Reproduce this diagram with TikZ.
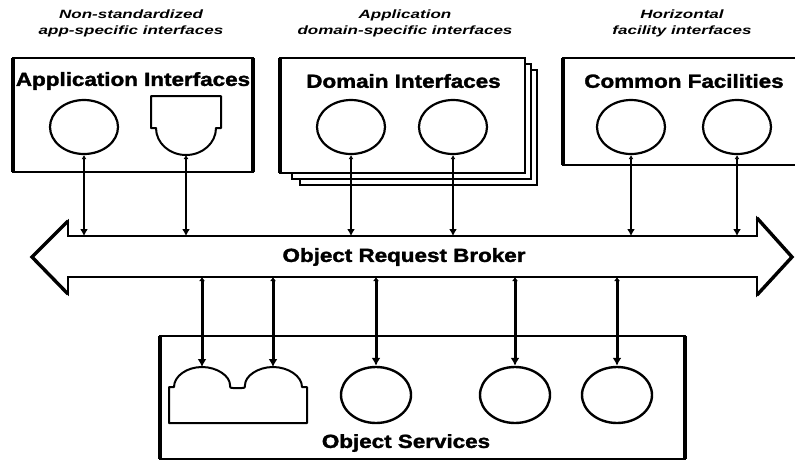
\documentclass[tikz,border=0pt]{standalone}
\usepackage{fontspec}
\setmainfont{Liberation Sans}[BoldFeatures={FakeBold=1.6}]
\usetikzlibrary{arrows.meta,shapes.geometric}
\begin{document}
\begin{tikzpicture}[x=1pt,y=-1pt,
  title/.style={font=\fontsize{19}{19}\selectfont\bfseries, inner sep=0pt},
  lbl/.style={font=\fontsize{12}{16}\selectfont\bfseries\itshape, align=center, inner sep=0pt},
  iface/.style={ellipse, draw, line width=2.2pt, minimum width=68pt, minimum height=54pt, inner sep=0pt},
  sface/.style={ellipse, draw, line width=2.4pt, minimum width=70pt, minimum height=56pt, inner sep=0pt},
  box/.style={draw, line width=2pt, fill=white},
  sidebar/.style={line width=3.4pt},
  plug/.style={draw, line width=2pt, fill=white, line join=round},
  uplink/.style={line width=1.6pt, {Latex[length=4pt,width=5pt]}-{Latex[length=7pt,width=8pt]}},
  dnlink/.style={line width=3pt, {Latex[length=4pt,width=6pt]}-{Latex[length=8pt,width=9pt]}}
]
\useasboundingbox (0,0) rectangle (795,461);
\clip (0,0) rectangle (795,461);

% top labels
\node[lbl] (l1) at (131,23) {\scalebox{1.42}[1]{Non-standardized}\\\scalebox{1.42}[1]{app-specific interfaces}};
\node[lbl] (l2) at (405,23) {\scalebox{1.42}[1]{Application}\\\scalebox{1.42}[1]{domain-specific interfaces}};
\node[lbl] (l3) at (682,23) {\scalebox{1.42}[1]{Horizontal}\\\scalebox{1.42}[1]{facility interfaces}};

% Application Interfaces box
\draw[box] (13,58) rectangle (253,172);
\draw[sidebar] (13,58) -- (13,172);
\draw[sidebar] (253,58) -- (253,172);
\node[title] (t1) at (133,81) {\scalebox{1.18}[1]{Application Interfaces}};
\node[iface] (c1) at (84,127) {};
\draw[plug] (151,96) -- (221,96) -- (221,128) -- (216,128)
  .. controls (216,143) and (202.6,155) .. (186,155)
  .. controls (169.4,155) and (156,143) .. (156,128) -- (151,128) -- cycle;
\coordinate (p1) at (186,155);

% Domain Interfaces stacked boxes
\draw[box, line width=1.8pt] (300,70) rectangle (537,185);
\draw[box, line width=1.8pt] (292,64) rectangle (531,179);
\draw[box] (280,58) rectangle (525,173);
\draw[sidebar] (280,58) -- (280,173);
\node[title] (t2) at (403.5,81) {\scalebox{1.18}[1]{Domain Interfaces}};
\node[iface] (c2) at (351,127) {};
\node[iface] (c3) at (453,127) {};

% Common Facilities box
\draw[box] (563,58) rectangle (800,165);
\draw[sidebar] (563,58) -- (563,165);
\node[title] (t3) at (684,81) {\scalebox{1.18}[1]{Common Facilities}};
\node[iface] (c4) at (631,127) {};
\node[iface] (c5) at (737,127) {};

% Object Request Broker double arrow
\draw[line width=1.8pt, line join=miter, fill=white]
  (32,257) -- (68,221) -- (68,236) -- (757,236) -- (757,218) -- (792,257)
  -- (757,295) -- (757,277) -- (68,277) -- (68,294) -- cycle;
\draw[line width=3.4pt, line join=miter] (68,221) -- (32,257) -- (68,294);
\draw[line width=3.4pt, line join=miter] (757,218) -- (792,257) -- (757,295);
\node[title] (orb) at (404,257) {\scalebox{1.18}[1]{Object Request Broker}};

\coordinate (o1) at (84,236);
\coordinate (o2) at (186,236);
\coordinate (o3) at (351,236);
\coordinate (o4) at (453,236);
\coordinate (o5) at (631,236);
\coordinate (o6) at (737,236);
\draw[uplink] (c1.south) -- (o1);
\draw[uplink] (p1) -- (o2);
\draw[uplink] (c2.south) -- (o3);
\draw[uplink] (c3.south) -- (o4);
\draw[uplink] (c4.south) -- (o5);
\draw[uplink] (c5.south) -- (o6);

% Object Services box
\draw[box, line width=1.6pt] (160,336) rectangle (685,459);
\draw[sidebar] (160,336) -- (160,459);
\draw[sidebar, line width=4pt] (685,336) -- (685,459);
\node[title] (t4) at (406,443) {\scalebox{1.18}[1]{Object Services}};

\draw[plug] (169,423) -- (169,387) -- (174,387)
  .. controls (174,376) and (187,367) .. (202,367)
  .. controls (217,367) and (230,376) .. (230,385)
  .. controls (230,388) .. (233,388) -- (242,388)
  .. controls (245,388) .. (245,385)
  .. controls (245,376) and (258,367) .. (273,367)
  .. controls (288,367) and (302,376) .. (302,387)
  -- (307,387) -- (307,423) -- cycle;
\coordinate (q1) at (202,367);
\coordinate (q2) at (273,367);
\node[sface] (s1) at (376,395) {};
\node[sface] (s2) at (515,395) {};
\node[sface] (s3) at (617,395) {};

\coordinate (u1) at (202,277);
\coordinate (u2) at (273,277);
\coordinate (u3) at (376,277);
\coordinate (u4) at (515,277);
\coordinate (u5) at (617,277);
\draw[dnlink] (u1) -- (q1);
\draw[dnlink] (u2) -- (q2);
\draw[dnlink] (u3) -- (s1.north);
\draw[dnlink] (u4) -- (s2.north);
\draw[dnlink] (u5) -- (s3.north);
\end{tikzpicture}
\end{document}
